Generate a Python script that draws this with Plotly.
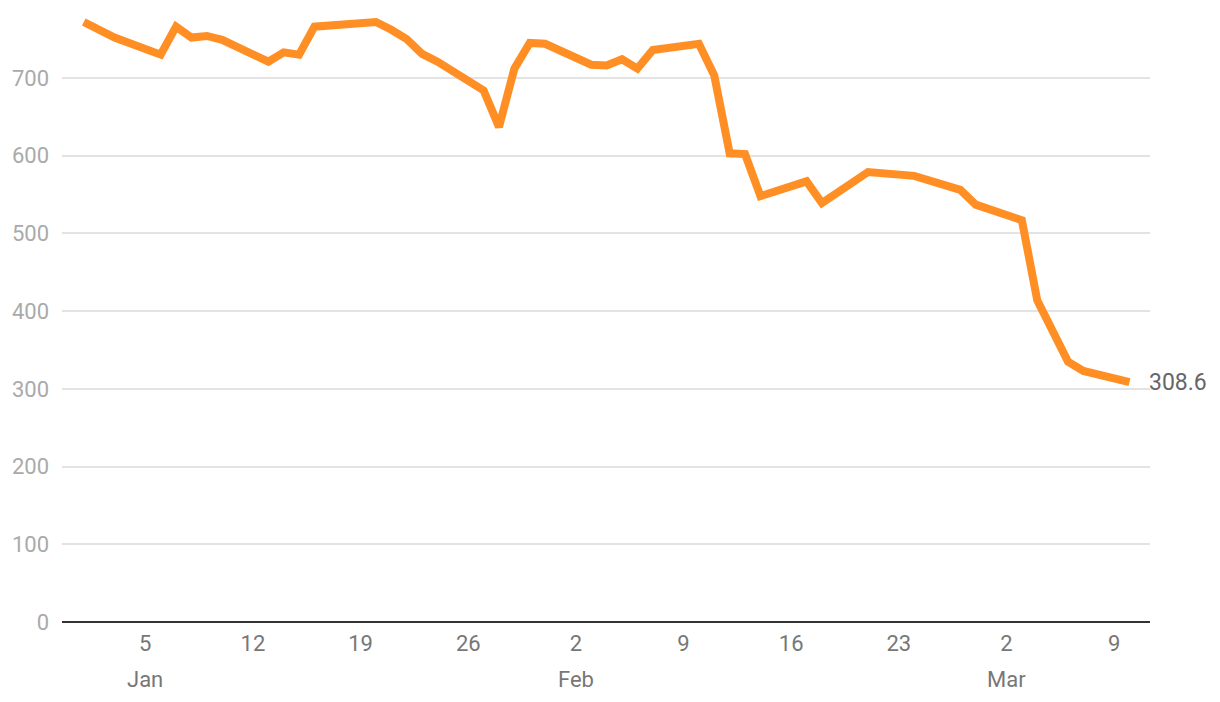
import plotly.graph_objects as go

dates = [
    "2025-01-01", "2025-01-02", "2025-01-03", "2025-01-06", "2025-01-07", "2025-01-08",
    "2025-01-09", "2025-01-10", "2025-01-13", "2025-01-14", "2025-01-15", "2025-01-16",
    "2025-01-20", "2025-01-21", "2025-01-22", "2025-01-23", "2025-01-24", "2025-01-27",
    "2025-01-28", "2025-01-29", "2025-01-30", "2025-01-31", "2025-02-03", "2025-02-04",
    "2025-02-05", "2025-02-06", "2025-02-07", "2025-02-10", "2025-02-11", "2025-02-12",
    "2025-02-13", "2025-02-14", "2025-02-17", "2025-02-18", "2025-02-20", "2025-02-21",
    "2025-02-24", "2025-02-27", "2025-02-28", "2025-03-03", "2025-03-04", "2025-03-05",
    "2025-03-06", "2025-03-07", "2025-03-10",
]
values = [
    772, 761, 752, 730, 766, 752,
    754, 749, 721, 733, 730, 766,
    772, 762, 750, 731, 721, 684,
    637, 712, 745, 744, 717, 716,
    724, 712, 736, 744, 703, 603,
    602, 548, 567, 539, 566, 579,
    574, 556, 537, 517, 414, 372,
    335, 323, 308.6,
]

tick_dates = ["2025-01-05", "2025-01-12", "2025-01-19", "2025-01-26", "2025-02-02",
              "2025-02-09", "2025-02-16", "2025-02-23", "2025-03-02", "2025-03-09"]
tick_days = ["5", "12", "19", "26", "2", "9", "16", "23", "2", "9"]
month_dates = ["2025-01-05", "2025-02-02", "2025-03-02"]
month_names = ["Jan", "Feb", "Mar"]
y_ticks = [0, 100, 200, 300, 400, 500, 600, 700]

line_color = "#ff8f24"
font_family = "Roboto, sans-serif"

fig = go.Figure()
fig.add_trace(go.Scatter(
    x=dates, y=values, mode="lines",
    line=dict(color=line_color, width=8),
    showlegend=False, hoverinfo="x+y"))

# value label at the last point
fig.add_annotation(
    x=dates[-1], y=values[-1], text=f"{values[-1]}",
    showarrow=False, xanchor="left", yanchor="middle", xshift=17,
    font=dict(family=font_family, size=23, color="#666666"))

# month names under the first tick of each month
for d, m in zip(month_dates, month_names):
    fig.add_annotation(
        x=d, y=0, xref="x", yref="paper", text=m,
        showarrow=False, xanchor="center", yanchor="top", yshift=-43,
        font=dict(family=font_family, size=22, color="#777777"))

fig.update_xaxes(
    type="date",
    range=["2024-12-30 14:00", "2025-03-11 08:00"],
    tickvals=tick_dates, ticktext=tick_days,
    tickfont=dict(family=font_family, size=22, color="#777777"),
    showgrid=False, showline=False, zeroline=False,
    ticks="", ticklabelstandoff=6)

fig.update_yaxes(
    range=[0, 790],
    tickvals=y_ticks,
    tickfont=dict(family=font_family, size=22, color="#aaaaaa"),
    gridcolor="#e3e3e3", gridwidth=1.5,
    zeroline=True, zerolinecolor="#333333", zerolinewidth=2,
    showline=False, ticks="", ticklabelstandoff=12)

# page body adds an 8px offset, so margins are shifted to compensate
fig.update_layout(
    width=1220, height=702,
    margin=dict(l=54, r=78, t=0, b=88),
    paper_bgcolor="white", plot_bgcolor="white",
    font=dict(family=font_family))

fig.write_html("out.html")
